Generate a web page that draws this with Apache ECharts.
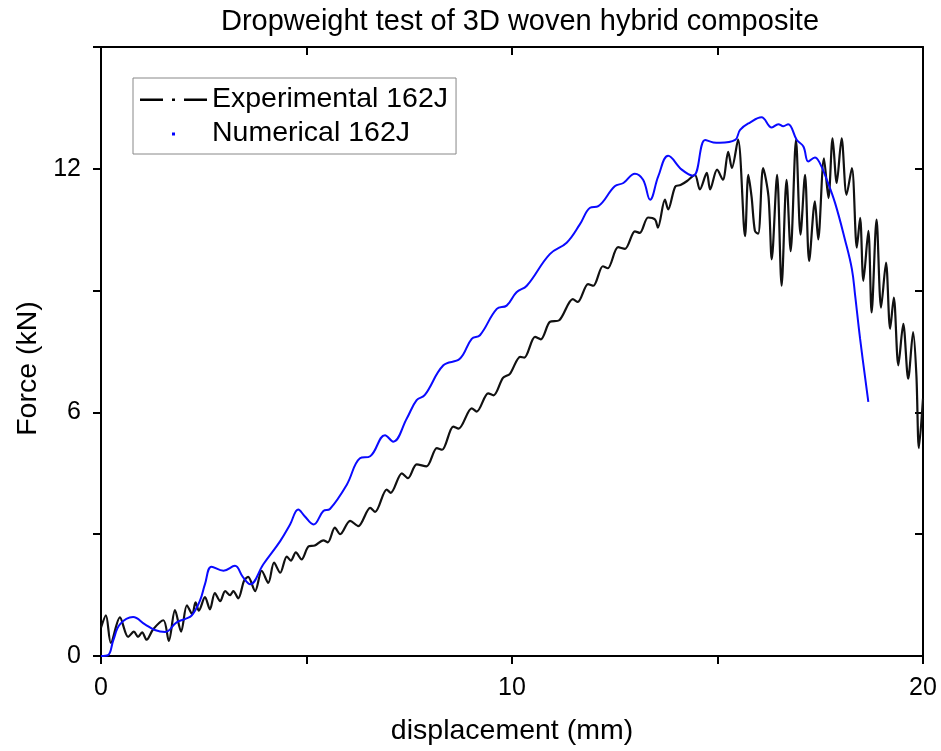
<!DOCTYPE html>
<html lang="en">
<head>
    <meta charset="UTF-8">
    <title>Dropweight test</title>
    <style>
        body { margin: 0; background: #fff; }
        div#main { width: 941px; height: 751px; }
    </style>
</head>
<body>
    <div id="main"></div>
    <script src="https://cdnjs.cloudflare.com/ajax/libs/echarts/6.0.0/echarts.min.js"></script>
    <script>
        // Experimental 162J - displacement (mm) / force (kN)
        const expX = [0, 0.12, 0.24, 0.46, 0.66, 0.8, 0.9, 1.0, 1.11, 1.27, 1.52, 1.65, 1.8, 1.95, 2.09, 2.22, 2.3, 2.38, 2.53, 2.65,
            2.77, 2.9, 3.02, 3.14, 3.22, 3.34, 3.48, 3.58, 3.75, 3.91, 4.07, 4.21, 4.36, 4.52, 4.62, 4.74, 4.88, 5.05, 5.2, 5.41,
            5.52, 5.69, 5.82, 6.06, 6.26, 6.55, 6.67, 6.95, 7.05, 7.32, 7.47, 7.68, 7.92, 8.17, 8.3, 8.57, 8.7, 9.02, 9.14, 9.42,
            9.55, 9.78, 9.95, 10.2, 10.3, 10.56, 10.7, 10.92, 11.15, 11.48, 11.6, 11.85, 11.98, 12.21, 12.33, 12.58, 12.75, 12.99, 13.11, 13.31,
            13.48, 13.55, 13.72, 13.8, 13.97, 14.1, 14.26, 14.45, 14.57, 14.74, 14.82, 14.99, 15.13, 15.26, 15.35, 15.5, 15.67, 15.75, 15.83, 15.91,
            15.99, 16.11, 16.24, 16.32, 16.45, 16.56, 16.68, 16.78, 16.91, 17.02, 17.13, 17.23, 17.37, 17.45, 17.59, 17.7, 17.8, 17.9, 18.02, 18.14,
            18.27, 18.39, 18.47, 18.55, 18.67, 18.75, 18.87, 18.98, 19.1, 19.2, 19.29, 19.4, 19.52, 19.64, 19.76, 19.84, 19.9, 20.0];
        const expF = [0.7, 1.0, 0.32, 0.95, 0.47, 0.6, 0.47, 0.58, 0.4, 0.66, 0.88, 0.37, 1.13, 0.6, 1.25, 1.03, 1.32, 1.12, 1.45, 1.15,
            1.55, 1.35, 1.6, 1.5, 1.6, 1.42, 1.85, 1.95, 1.6, 2.1, 1.8, 2.3, 2.05, 2.45, 2.35, 2.55, 2.38, 2.7, 2.72, 2.85,
            2.8, 3.16, 3.0, 3.33, 3.2, 3.65, 3.55, 4.1, 4.02, 4.5, 4.38, 4.72, 4.67, 5.12, 5.08, 5.65, 5.6, 6.1, 6.02, 6.47,
            6.42, 6.85, 6.95, 7.37, 7.35, 7.86, 7.8, 8.23, 8.27, 8.79, 8.72, 9.16, 9.12, 9.6, 9.55, 10.07, 10.03, 10.46, 10.42, 10.8,
            10.75, 10.55, 11.24, 11.0, 11.56, 11.6, 11.7, 11.85, 11.49, 11.9, 11.49, 11.98, 11.73, 12.42, 12.02, 12.72, 10.34, 11.85, 11.3, 10.47,
            10.4, 12.02, 11.32, 9.77, 11.85, 9.12, 11.73, 9.97, 12.71, 10.38, 11.85, 9.73, 11.2, 10.26, 12.26, 11.28, 12.75, 11.65, 12.75, 11.36,
            12.02, 10.06, 10.79, 9.24, 10.47, 8.46, 10.75, 8.58, 9.69, 8.06, 8.83, 7.16, 8.18, 6.83, 7.98, 6.9, 5.12, 6.34];

        // Numerical 162J
        const numX = [0, 0.17, 0.3, 0.46, 0.78, 1.07, 1.31, 1.56, 1.84, 2.04, 2.21, 2.41, 2.53, 2.69, 2.98, 3.26, 3.45, 3.63, 3.95, 4.36,
            4.6, 4.8, 4.95, 5.17, 5.41, 5.57, 5.98, 6.3, 6.55, 6.91, 7.11, 7.44, 7.68, 7.88, 8.33, 8.73, 9.02, 9.22, 9.63, 9.87,
            10.11, 10.36, 10.92, 11.33, 11.65, 11.9, 12.1, 12.5, 12.71, 12.99, 13.19, 13.36, 13.56, 13.8, 14.13, 14.41, 14.7, 14.9, 15.06, 15.43,
            15.55, 15.79, 16.07, 16.32, 16.48, 16.6, 16.72, 16.93, 17.09, 17.21, 17.37, 17.49, 17.66, 17.86, 18.1, 18.27, 18.35, 18.47, 18.67];
        const numF = [0, 0.02, 0.39, 0.78, 0.96, 0.78, 0.64, 0.59, 0.83, 0.91, 1.0, 1.37, 1.77, 2.2, 2.1, 2.22, 1.95, 1.77, 2.26, 2.83,
            3.24, 3.61, 3.45, 3.24, 3.57, 3.62, 4.22, 4.87, 4.92, 5.44, 5.28, 5.85, 6.3, 6.43, 7.16, 7.32, 7.81, 7.9, 8.55, 8.63,
            8.96, 9.12, 9.9, 10.18, 10.63, 11.04, 11.08, 11.57, 11.65, 11.88, 11.73, 11.24, 11.82, 12.32, 11.98, 11.83, 12.71, 12.65, 12.64, 12.71,
            12.96, 13.14, 13.27, 13.02, 13.1, 13.05, 13.1, 12.71, 12.55, 12.18, 12.28, 12.14, 11.73, 11.16, 10.26, 9.53, 8.87, 7.81, 6.26];

        const font = 'Liberation Sans';
        const myChart = echarts.init(document.getElementById('main'));

        const zip = (xs, ys) => xs.map((x, i) => [x, ys[i]]);
        const frameLine = { onZero: false, lineStyle: { color: '#000', width: 2 } };
        const tickOut = { inside: false, length: 8, lineStyle: { color: '#000', width: 2 } };
        const tickIn = { inside: true, length: 8, lineStyle: { color: '#000', width: 2 } };

        const option = {
            animation: false,
            title: {
                text: 'Dropweight test of 3D woven hybrid composite',
                left: 520,
                top: 7,
                padding: 0,
                textAlign: 'center',
                textStyle: { fontFamily: font, fontSize: 29, fontWeight: 'normal', color: '#000' }
            },
            legend: {
                orient: 'vertical',
                left: 133,
                top: 78,
                padding: [7, 8, 6, 7],
                itemGap: 5,
                itemWidth: 67,
                itemHeight: 14,
                backgroundColor: '#fff',
                borderColor: '#888',
                borderWidth: 1,
                borderRadius: 0,
                textStyle: { fontFamily: font, fontSize: 28.5, color: '#000' },
                data: [
                    { name: 'Experimental 162J', icon: 'path://M0,0M67,14M0,6h23v2.4h-23zM32,6h3v2.4h-3zM44,6h23v2.4h-23z' },
                    { name: 'Numerical 162J', icon: 'path://M0,0M67,14M32,6h3v3h-3z' }
                ]
            },
            grid: { left: 101, right: 18, top: 47, bottom: 92 },
            xAxis: [
                {
                    type: 'value', min: 0, max: 20, interval: 5, position: 'bottom',
                    name: 'displacement (mm)', nameLocation: 'middle', nameGap: 61,
                    nameTextStyle: { fontFamily: font, fontSize: 28.5, color: '#000' },
                    axisLine: frameLine,
                    axisTick: tickOut,
                    axisLabel: { margin: 20, fontFamily: font, fontSize: 25, color: '#000',
                        formatter: v => (v % 10 === 0 ? String(v) : '') },
                    splitLine: { show: false }
                },
                {
                    type: 'value', min: 0, max: 20, interval: 5, position: 'top',
                    axisLine: frameLine,
                    axisTick: tickIn,
                    axisLabel: { show: false },
                    splitLine: { show: false }
                }
            ],
            yAxis: [
                {
                    type: 'value', min: 0, max: 15, interval: 3, position: 'left',
                    name: 'Force (kN)', nameLocation: 'middle', nameGap: 58,
                    nameTextStyle: { fontFamily: font, fontSize: 28.5, color: '#000', padding: [0, 34, 0, 0] },
                    axisLine: frameLine,
                    axisTick: tickOut,
                    axisLabel: { margin: 20, fontFamily: font, fontSize: 25, color: '#000',
                        formatter: v => (v % 6 === 0 ? String(v) : '') },
                    splitLine: { show: false }
                },
                {
                    type: 'value', min: 0, max: 15, interval: 3, position: 'right',
                    axisLine: frameLine,
                    axisTick: tickIn,
                    axisLabel: { show: false },
                    splitLine: { show: false }
                }
            ],
            series: [
                {
                    name: 'Experimental 162J',
                    type: 'line',
                    data: zip(expX, expF),
                    showSymbol: false,
                    smooth: 0.3,
                    color: '#000',
                    lineStyle: { color: '#111', width: 2.2 },
                    z: 2
                },
                {
                    name: 'Numerical 162J',
                    type: 'line',
                    data: zip(numX, numF),
                    showSymbol: false,
                    smooth: 0.4,
                    color: '#0000ff',
                    lineStyle: { color: '#0a0aff', width: 2 },
                    z: 3
                }
            ]
        };

        myChart.setOption(option);
    </script>
</body>
</html>
